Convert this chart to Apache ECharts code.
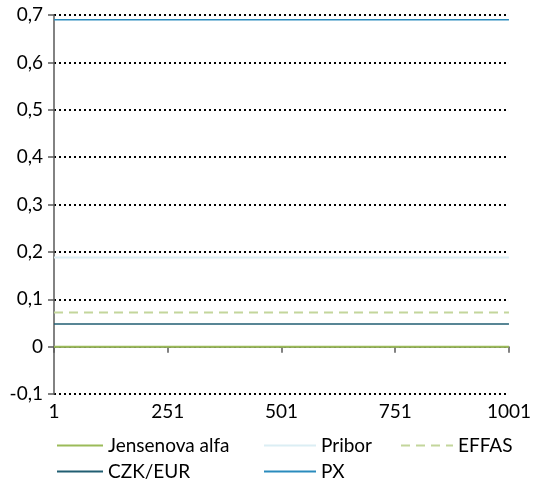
<!DOCTYPE html>
<html>
<head>
<meta charset="utf-8">
<script src="https://cdn.jsdelivr.net/npm/echarts@6/dist/echarts.min.js"></script>
<style>html,body{margin:0;padding:0;background:#fff;}#c{width:534px;height:482px;}</style>
</head>
<body>
<div id="c"></div>
<script>
// Data
var xPoints = [1, 1001];
var seriesNames = ['Jensenova alfa', 'Pribor', 'EFFAS', 'CZK/EUR', 'PX'];
var jensenovaAlfa = [0, 0];
var pribor = [0.188, 0.188];
var effas = [0.072, 0.072];
var czkEur = [0.048, 0.048];
var px = [0.69, 0.69];
var xTickLabels = ['1', '251', '501', '751', '1001'];
var yTickLabels = ['-0,1', '0', '0,1', '0,2', '0,3', '0,4', '0,5', '0,6', '0,7'];

var FONT = 'Lato';
function pairs(vals) { return xPoints.map(function (x, i) { return [x, vals[i]]; }); }

var chart = echarts.init(document.getElementById('c'), null, {renderer: 'canvas'});
function legendAt(name, left, top, w) {
  return {
    data: [name], left: left, top: top, padding: 0, itemWidth: w, itemHeight: 12,
    itemStyle: {opacity: 0},
    textStyle: {fontFamily: FONT, fontSize: 19, color: '#000'}, selectedMode: false
  };
}
var option = {
  animation: false,
  grid: {left: 54, right: 21, top: 15, bottom: 88, containLabel: false},
  legend: [
    legendAt('Jensenova alfa', 56, 436, 46),
    legendAt('Pribor', 263, 436, 52),
    legendAt('EFFAS', 400, 436, 52),
    legendAt('CZK/EUR', 56, 462, 46),
    legendAt('PX', 263, 462, 52)
  ],
  xAxis: [{
    type: 'value', min: 1, max: 1001, interval: 250, position: 'bottom',
    axisLine: {show: false, onZero: false}, axisTick: {show: false}, splitLine: {show: false},
    axisLabel: {fontFamily: FONT, fontSize: 19, color: '#000', margin: 8,
      formatter: function (v) { var i = Math.round((v - 1) / 250); return xTickLabels[i] || ''; }}
  }, {
    type: 'value', min: 1, max: 1001, interval: 250, position: 'bottom',
    axisLine: {show: true, onZero: true, lineStyle: {color: '#595959', width: 1.5}},
    axisTick: {show: true, length: 6, inside: false, lineStyle: {color: '#595959', width: 1.5}},
    axisLabel: {show: false}, splitLine: {show: false}
  }],
  yAxis: {
    type: 'value', min: -0.1, max: 0.7, interval: 0.1,
    axisLine: {show: true, onZero: false, lineStyle: {color: '#595959', width: 1.5}},
    axisTick: {show: true, length: 6, lineStyle: {color: '#595959', width: 1.5}},
    axisLabel: {fontFamily: FONT, fontSize: 19, color: '#000', margin: 11,
      formatter: function (v) { var i = Math.round((v + 0.1) * 10); return yTickLabels[i]; }},
    splitLine: {show: true, lineStyle: {color: '#000', width: 2, type: [2, 3]}}
  },
  series: [
    {name: 'Pribor', type: 'line', xAxisIndex: 0, data: pairs(pribor), symbol: 'none',
      lineStyle: {color: '#dbeef4', width: 2}, itemStyle: {color: '#dbeef4'}, z: 3},
    {name: 'EFFAS', type: 'line', xAxisIndex: 0, data: pairs(effas), symbol: 'none',
      lineStyle: {color: '#c3d69b', width: 2, type: [9, 6]}, itemStyle: {color: '#c3d69b'}, z: 3},
    {name: 'CZK/EUR', type: 'line', xAxisIndex: 0, data: pairs(czkEur), symbol: 'none',
      lineStyle: {color: '#215e72', width: 1.5}, itemStyle: {color: '#215e72'}, z: 3},
    {name: 'PX', type: 'line', xAxisIndex: 0, data: pairs(px), symbol: 'none',
      lineStyle: {color: '#2a8bbd', width: 1.5}, itemStyle: {color: '#2a8bbd'}, z: 3},
    {name: 'Jensenova alfa', type: 'line', xAxisIndex: 0, data: pairs(jensenovaAlfa), symbol: 'none',
      lineStyle: {color: '#9bbb59', width: 2}, itemStyle: {color: '#9bbb59'}, z: 4}
  ]
};
chart.setOption(option);
</script>
</body>
</html>
